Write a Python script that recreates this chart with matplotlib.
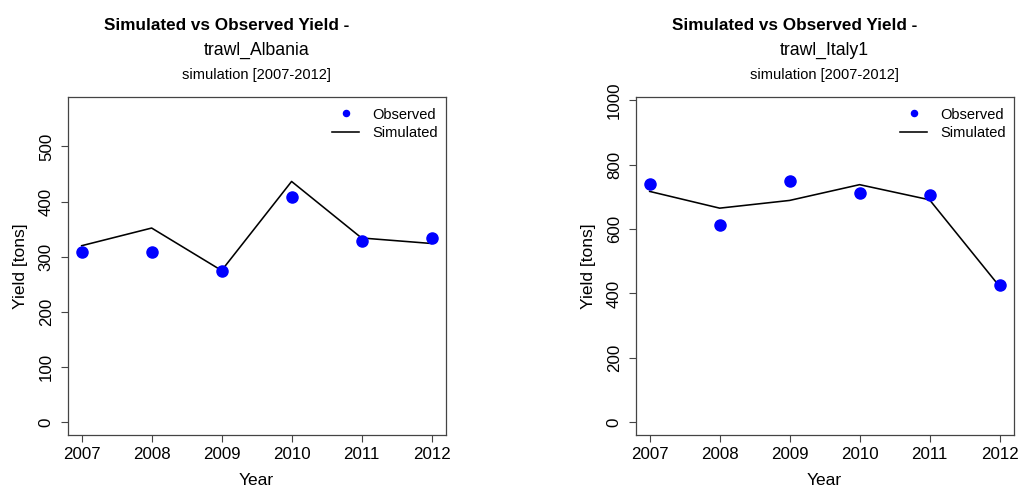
import matplotlib
matplotlib.use("Agg")
import matplotlib.pyplot as plt

plt.rcParams['font.family'] = ['Liberation Sans', 'DejaVu Sans']

years = [2007, 2008, 2009, 2010, 2011, 2012]

albania_observed = [309, 309, 275, 409, 328, 334]
albania_simulated = [320, 352, 275, 436.5, 334, 324]

italy_observed = [741, 613, 748, 712, 706, 425]
italy_simulated = [717, 665, 689, 738, 691, 422]

fleets = ["trawl_Albania", "trawl_Italy1"]
y_ticks = [[0, 100, 200, 300, 400, 500], [0, 200, 400, 600, 800, 1000]]

W, H = 1021, 488
fig = plt.figure(figsize=(W / 100, H / 100), dpi=100)

frame_color = "#444444"
panels = [
    (albania_observed, albania_simulated, 67.7),
    (italy_observed, italy_simulated, 635.7),
]
ax_w, ax_top, ax_bot = 377.8, 96.7, 434.7
ax_h = ax_bot - ax_top

for i, (obs, sim, left_px) in enumerate(panels):
    ax = fig.add_axes([left_px / W, 1 - ax_bot / H, ax_w / W, ax_h / H])
    ymax = 1.3 * max(max(obs), max(sim))
    ax.set_ylim(-0.04 * ymax, ymax * 1.04)
    ax.set_xlim(2007 - 0.2, 2012 + 0.2)

    ax.plot(years, sim, color="black", lw=1.15, label="Simulated", zorder=2)
    ax.plot(years, obs, "o", color="#0000FF", ms=8, mec="#0000FF",
            label="Observed", zorder=3)

    ax.set_xticks(years)
    ax.set_xticklabels([str(y) for y in years], fontsize=12.2)
    ax.set_yticks(y_ticks[i])
    ax.set_yticklabels([str(v) for v in y_ticks[i]], fontsize=12.2,
                       rotation=90, va="center")
    ax.tick_params(axis="both", direction="out", length=5, width=0.8,
                   color=frame_color)
    ax.tick_params(axis="x", pad=4)
    ax.tick_params(axis="y", pad=5)
    for s in ax.spines.values():
        s.set_color(frame_color)
        s.set_linewidth(0.9)

    ax.set_xlabel("Year", fontsize=12.5, labelpad=8)
    ax.set_ylabel("Yield [tons]", fontsize=12.5, labelpad=8)

    handles, labels = ax.get_legend_handles_labels()
    ax.legend(handles[::-1], labels[::-1], loc="upper right",
              bbox_to_anchor=(1.0, 1.0 - 3.6 / ax_h),
              frameon=False, fontsize=10.5, markerscale=0.55,
              handlelength=1.9, handletextpad=0.9, labelspacing=0.32,
              borderaxespad=0.3, borderpad=0.2)

    ax.text(0.42, 1.197, "Simulated vs Observed Yield -", transform=ax.transAxes,
            ha="center", va="baseline", fontsize=12.3, fontweight="bold")
    ax.text(0.5, 1.125, fleets[i], transform=ax.transAxes,
            ha="center", va="baseline", fontsize=12.7)
    ax.text(0.5, 1.052, "simulation [2007-2012]", transform=ax.transAxes,
            ha="center", va="baseline", fontsize=10.5)

fig.savefig("out.png", dpi=100, facecolor="white")
